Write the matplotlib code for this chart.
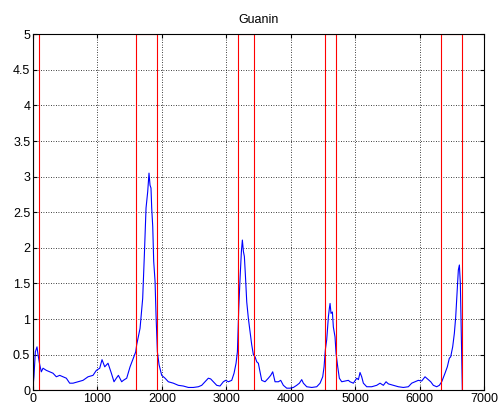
import matplotlib
matplotlib.use("Agg")
import matplotlib.pyplot as plt

# blue signal (position, value)
signal_x = [
    0, 15, 36, 62, 78, 104, 129, 155, 207, 259, 310, 362, 414, 466, 517, 569,
    621, 698, 776, 854, 931, 983, 1035, 1071, 1113, 1164, 1216, 1257, 1293,
    1325, 1376, 1402, 1454, 1506, 1557, 1594, 1609, 1661, 1702, 1728, 1754,
    1780, 1800, 1816, 1831, 1842, 1858, 1873, 1894, 1909, 1930, 1956, 1997,
    2049, 2100, 2178, 2255, 2333, 2411, 2488, 2566, 2618, 2670, 2721, 2757,
    2799, 2851, 2902, 2954, 2990, 3032, 3084, 3120, 3151, 3172, 3193, 3213,
    3234, 3249, 3265, 3280, 3296, 3317, 3342, 3368, 3394, 3420, 3446, 3472,
    3497, 3523, 3549, 3601, 3652, 3689, 3720, 3756, 3808, 3844, 3885, 3937,
    3989, 4041, 4092, 4134, 4170, 4196, 4248, 4326, 4403, 4455, 4496, 4517,
    4537, 4558, 4584, 4599, 4610, 4625, 4646, 4661, 4687, 4703, 4729, 4754,
    4791, 4843, 4894, 4920, 4972, 5024, 5050, 5075, 5101, 5127, 5179, 5256,
    5334, 5386, 5437, 5479, 5515, 5592, 5670, 5747, 5825, 5877, 5929, 5980,
    6032, 6084, 6135, 6172, 6213, 6265, 6306, 6343, 6394, 6430, 6461, 6482,
    6513, 6539, 6560, 6580, 6601, 6617, 6632, 6648, 6658, 6663,
]
signal_y = [
    0.05, 0.2, 0.54, 0.61, 0.5, 0.36, 0.26, 0.31, 0.28, 0.26, 0.24, 0.19,
    0.21, 0.19, 0.17, 0.1, 0.1, 0.12, 0.14, 0.19, 0.21, 0.28, 0.31, 0.43,
    0.33, 0.38, 0.24, 0.12, 0.17, 0.21, 0.12, 0.14, 0.17, 0.33, 0.45, 0.54,
    0.64, 0.87, 1.29, 1.9, 2.56, 2.79, 3.05, 2.88, 2.84, 2.56, 2.3, 1.81,
    1.53, 1.06, 0.54, 0.36, 0.21, 0.17, 0.12, 0.1, 0.07, 0.06, 0.04, 0.04,
    0.05, 0.07, 0.12, 0.17, 0.16, 0.12, 0.07, 0.06, 0.12, 0.14, 0.12, 0.14,
    0.24, 0.38, 0.54, 1.15, 1.57, 1.95, 2.11, 1.95, 1.88, 1.62, 1.24, 1.01,
    0.82, 0.64, 0.5, 0.47, 0.4, 0.38, 0.26, 0.14, 0.12, 0.17, 0.21, 0.26,
    0.12, 0.12, 0.14, 0.07, 0.03, 0.03, 0.04, 0.07, 0.1, 0.15, 0.1, 0.05,
    0.04, 0.05, 0.1, 0.19, 0.33, 0.57, 0.71, 1.03, 1.15, 1.22, 1.08, 1.1,
    0.89, 0.75, 0.52, 0.33, 0.17, 0.12, 0.13, 0.14, 0.12, 0.1, 0.17, 0.15,
    0.25, 0.19, 0.1, 0.05, 0.05, 0.07, 0.1, 0.07, 0.12, 0.09, 0.07, 0.05,
    0.04, 0.05, 0.1, 0.12, 0.14, 0.13, 0.19, 0.15, 0.12, 0.07, 0.05, 0.07,
    0.12, 0.24, 0.33, 0.45, 0.47, 0.61, 0.8, 1.03, 1.36, 1.69, 1.76, 1.5,
    0.75, 0.26, 0.0,
]

# red window edges (segment boundaries) and window height
edges = [0, 98, 1594, 1920, 3177, 3430, 4537, 4708, 6327, 6658]
window_height = 5

x_ticks = [0, 1000, 2000, 3000, 4000, 5000, 6000, 7000]
y_ticks = [0, 0.5, 1, 1.5, 2, 2.5, 3, 3.5, 4, 4.5, 5]

plt.rcParams["font.family"] = ["Liberation Sans", "DejaVu Sans"]

fig = plt.figure(figsize=(4.98, 4.03), dpi=100)
ax = fig.add_axes([0.0663, 0.0315, 0.9057, 0.8835])

ax.plot(signal_x, signal_y, color="blue", linewidth=0.8)

# square wave: high inside every other window
wave_x, wave_y = [], []
for i, e in enumerate(edges):
    lo, hi = (0, window_height) if i % 2 == 0 else (window_height, 0)
    wave_x += [e, e]
    wave_y += [lo, hi]
ax.plot(wave_x, wave_y, color="red", linewidth=0.8)

ax.set_xlim(0, 7000)
ax.set_ylim(0, 5)
ax.set_xticks(x_ticks)
ax.set_yticks(y_ticks)
ax.set_xticklabels([str(t) for t in x_ticks])
ax.set_yticklabels(["0", "0.5", "1", "1.5", "2", "2.5", "3", "3.5", "4", "4.5", "5"])
ax.tick_params(direction="in", length=3, labelsize=9, top=True, right=True, pad=2)
ax.grid(True, color="black", linestyle=(0, (1, 2)), linewidth=0.6)
for s in ax.spines.values():
    s.set_linewidth(0.8)

ax.set_title("Guanin", fontsize=9, pad=8)

fig.savefig("out.png", dpi=100)
